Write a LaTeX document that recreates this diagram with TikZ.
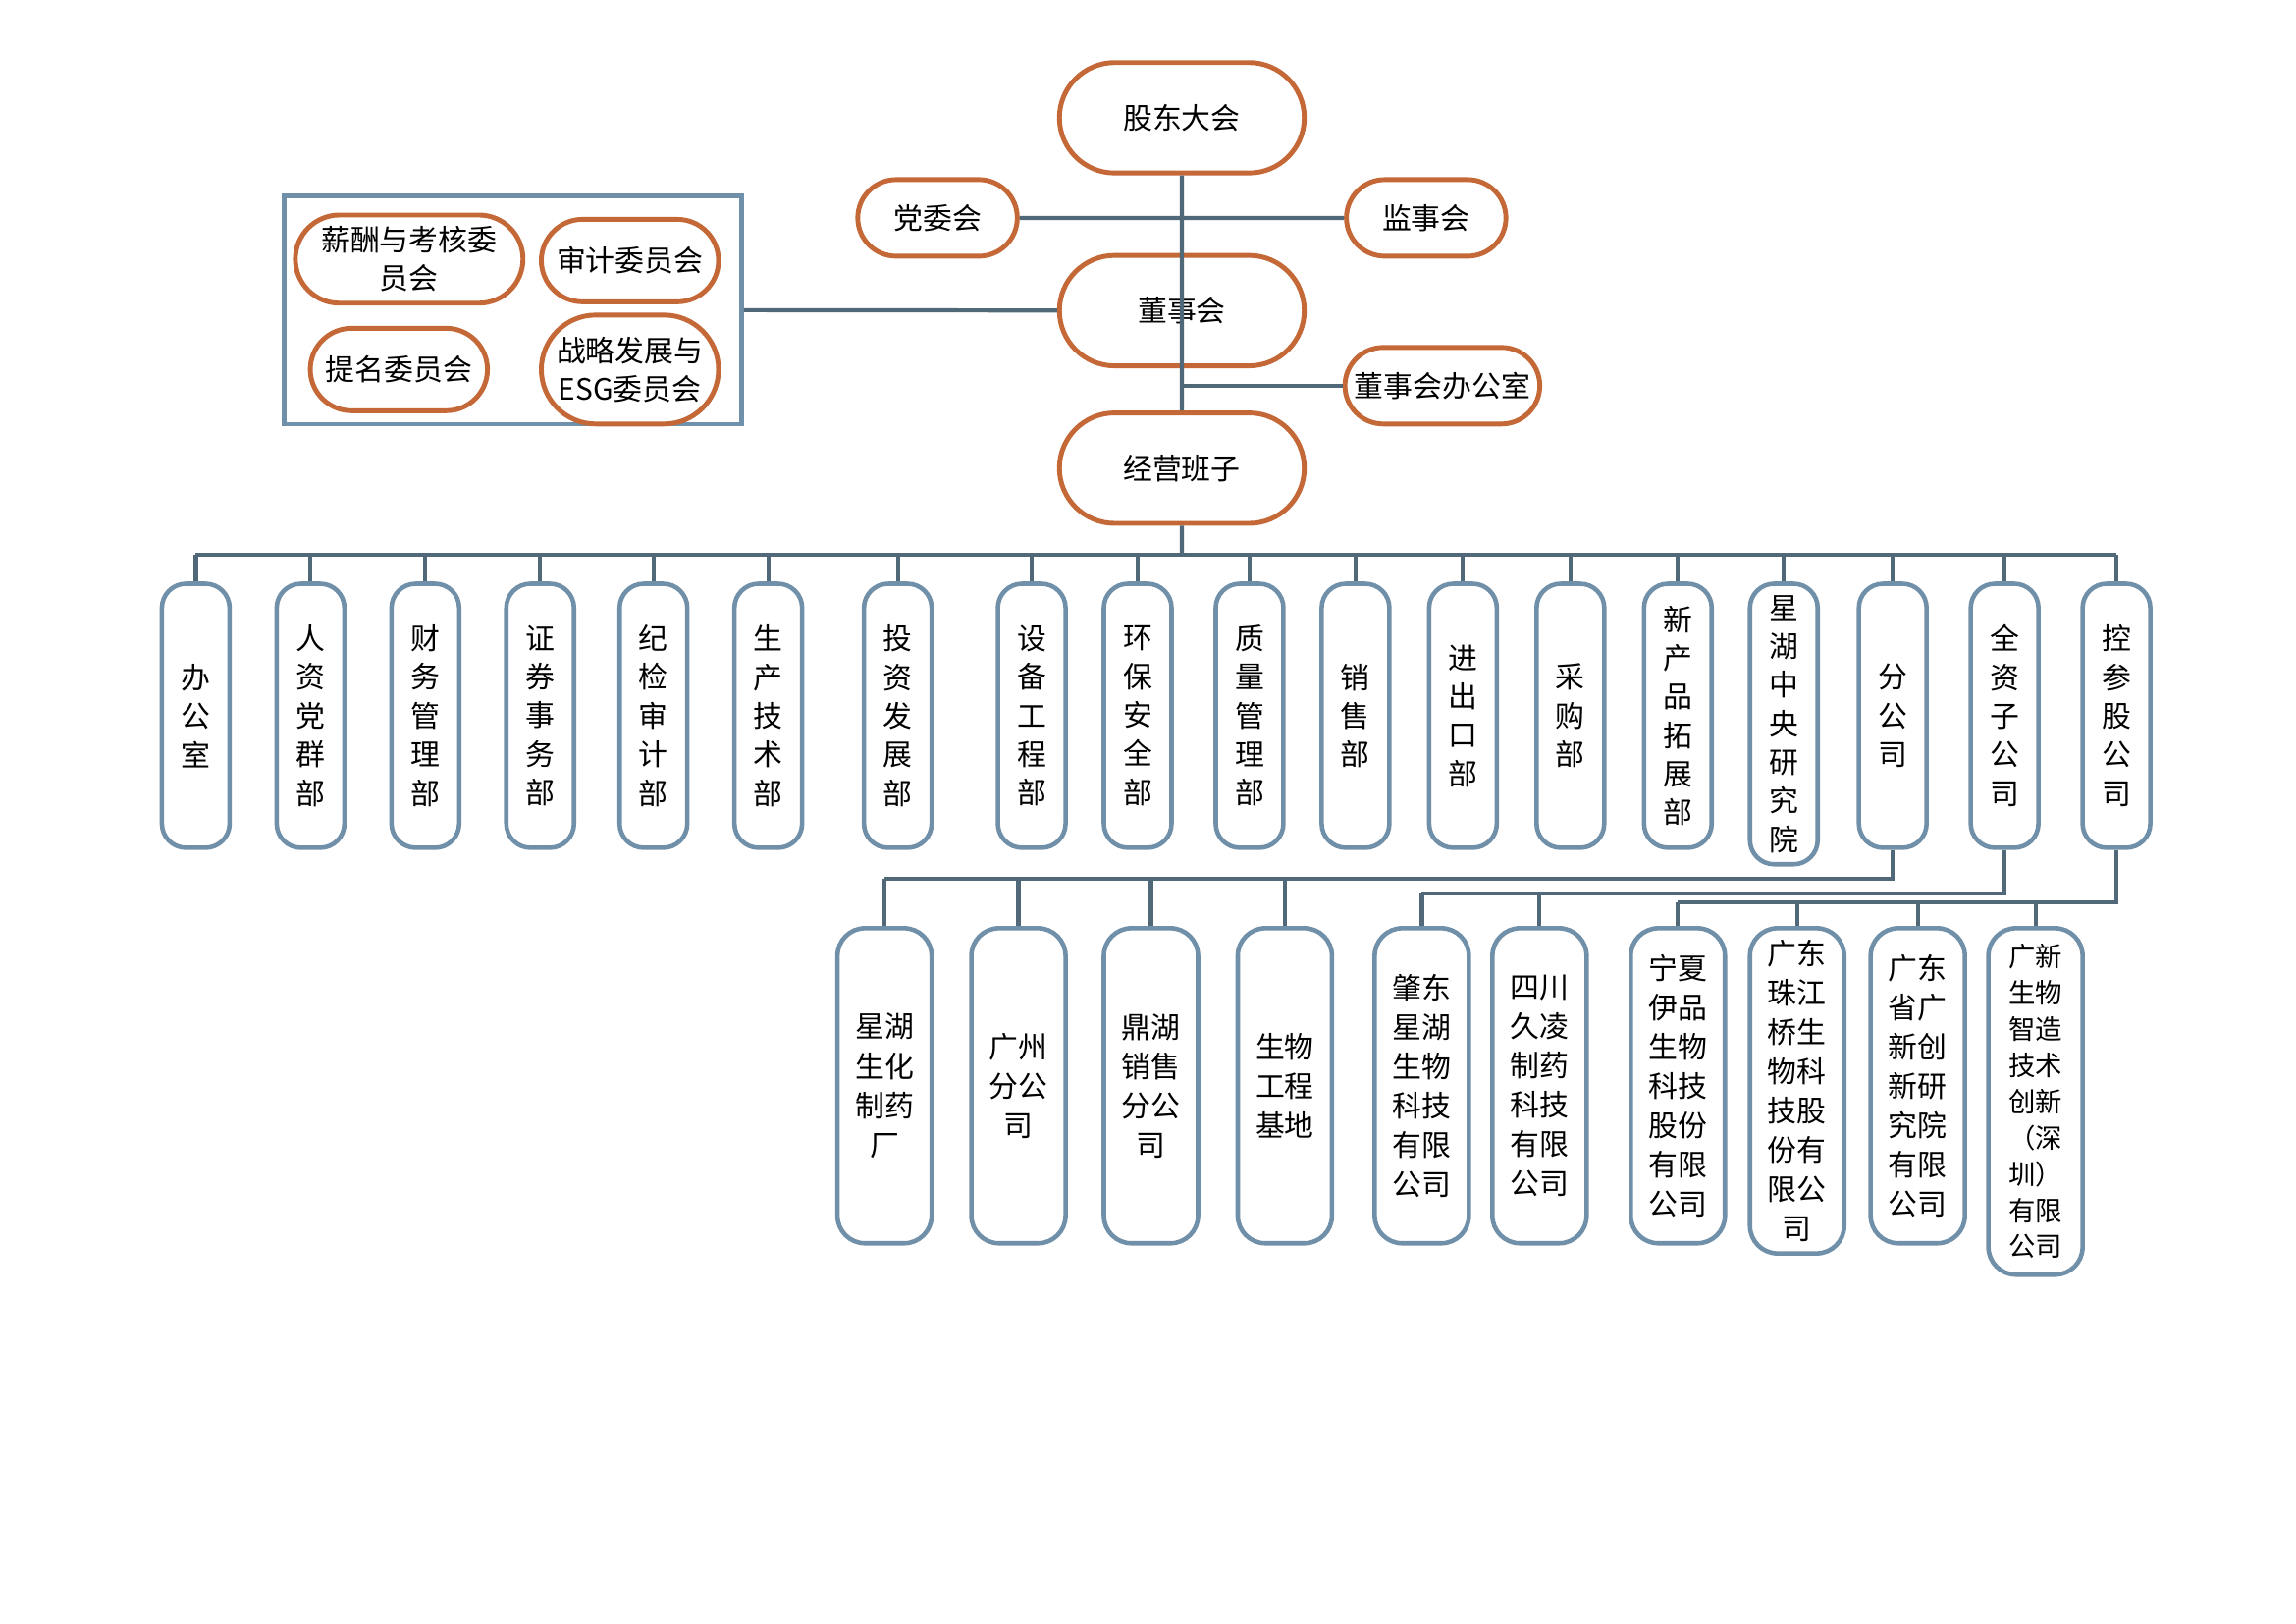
\documentclass[tikz,border=0pt]{standalone}
\usepackage{fontspec}
\setmainfont{Noto Sans CJK SC}
\usetikzlibrary{positioning,shapes.misc}
\definecolor{orgc}{RGB}{196,104,56}
\definecolor{bluc}{RGB}{112,143,168}
\definecolor{linec}{RGB}{80,104,120}
\tikzset{
  obox/.style={draw=orgc,line width=1.4pt,rounded rectangle,fill=white,align=center,font=\fontsize{8.5}{11}\selectfont},
  dbox/.style={draw=bluc,line width=1.3pt,rounded corners=7pt,fill=white,align=center,anchor=north,
    minimum width=0.69cm,minimum height=2.69cm,font=\fontsize{8.5}{11.2}\selectfont},
  sbox/.style={draw=bluc,line width=1.3pt,rounded corners=8pt,fill=white,align=center,anchor=north,
    minimum width=0.96cm,minimum height=3.21cm,font=\fontsize{8.5}{11.4}\selectfont},
  conn/.style={draw=linec,line width=1.2pt}
}
\begin{document}
\begin{tikzpicture}[x=0.015cm,y=-0.015cm]
\useasboundingbox (0,0) rectangle (1560,1103);
% top level
\node (gd) [obox,minimum width=2.73cm,minimum height=1.125cm] at (803,80) {股东大会};
\node (dw) [obox,minimum width=1.86cm,minimum height=0.78cm] at (637,148) {党委会};
\node (js) [obox,minimum width=1.86cm,minimum height=0.78cm] at (969,148) {监事会};
\node (ds) [obox,minimum width=2.73cm,minimum height=1.125cm] at (803,211) {董事会};
\node (bgs) [obox,minimum width=2.22cm,minimum height=0.78cm] at (980,262) {董事会办公室};
\node (jy) [obox,minimum width=2.73cm,minimum height=1.125cm] at (803,318) {经营班子};
% committees
\node (cbox) [draw=bluc,line width=1.3pt,minimum width=4.665cm,minimum height=2.325cm] at (348.5,210.5) {};
\node (xc) [obox,minimum width=2.04cm,minimum height=0.84cm] at (278,176) {薪酬与考核委\\员会};
\node (sj) [obox,minimum width=2.04cm,minimum height=0.84cm] at (428,177) {审计委员会};
\node (tm) [obox,minimum width=2.04cm,minimum height=0.84cm] at (271,251) {提名委员会};
\node (zl) [obox,minimum width=2.04cm,minimum height=1.11cm] at (428,251) {战略发展与\\ESG委员会};
\begin{scope}[on background layer/.style={}]
\draw[conn] (gd) -- (jy);
\draw[conn] (dw) -- (js);
\draw[conn] (cbox) -- (ds);
\draw[conn] (bgs.west) -- (bgs.west-|jy);
\end{scope}
% departments
\coordinate (bus) at (803,377);
\foreach \x/\t/\n in {133/{办\\公\\室}/1,211/{人\\资\\党\\群\\部}/2,289/{财\\务\\管\\理\\部}/3,
  367/{证\\券\\事\\务\\部}/4,444/{纪\\检\\审\\计\\部}/5,522/{生\\产\\技\\术\\部}/6,
  610/{投\\资\\发\\展\\部}/7,701/{设\\备\\工\\程\\部}/8,773/{环\\保\\安\\全\\部}/9,
  849/{质\\量\\管\\理\\部}/10,921/{销\\售\\部}/11,994/{进\\出\\口\\部}/12,
  1067/{采\\购\\部}/13,1140/{新\\产\\品\\拓\\展\\部}/14,1212/{星\\湖\\中\\央\\研\\究\\院}/15,
  1286/{分\\公\\司}/16,1362/{全\\资\\子\\公\\司}/17,1438/{控\\参\\股\\公\\司}/18}
{
  \node (d\n) [dbox] at (\x,395) {\t};
  \draw[conn] (d\n.north) -- (d\n.north|-bus);
}
\draw[conn] (jy) -- (bus);
\draw[conn] (d1.north|-bus) -- (d18.north|-bus);
% subsidiaries
\foreach \x/\t/\n in {601/{星湖\\生化\\制药\\厂}/1,692/{广州\\分公\\司}/2,782/{鼎湖\\销售\\分公\\司}/3,
  873/{生物\\工程\\基地}/4,966/{肇东\\星湖\\生物\\科技\\有限\\公司}/5,1046/{四川\\久凌\\制药\\科技\\有限\\公司}/6,
  1140/{宁夏\\伊品\\生物\\科技\\股份\\有限\\公司}/7,1221/{广东\\珠江\\桥生\\物科\\技股\\份有\\限公\\司}/8,
  1303/{广东\\省广\\新创\\新研\\究院\\有限\\公司}/9}
{
  \node (s\n) [sbox] at (\x,629) {\t};
}
\node (s10) [sbox,minimum height=3.53cm,font=\fontsize{7.8}{10.5}\selectfont] at (1383,629) {广新\\生物\\智造\\技术\\创新\\（深\\圳）\\有限\\公司};
\coordinate (fb) at (0,597);
\coordinate (qb) at (0,607);
\coordinate (kb) at (0,613);
\draw[conn] (d16) -- (d16|-fb) -- (s1.north|-fb);
\foreach \n in {1,...,4} \draw[conn] (s\n.north) -- (s\n.north|-fb);
\draw[conn] (d17) -- (d17|-qb) -- (s5.north|-qb);
\foreach \n in {5,6} \draw[conn] (s\n.north) -- (s\n.north|-qb);
\draw[conn] (d18) -- (d18|-kb) -- (s7.north|-kb);
\foreach \n in {7,...,10} \draw[conn] (s\n.north) -- (s\n.north|-kb);
\end{tikzpicture}
\end{document}
